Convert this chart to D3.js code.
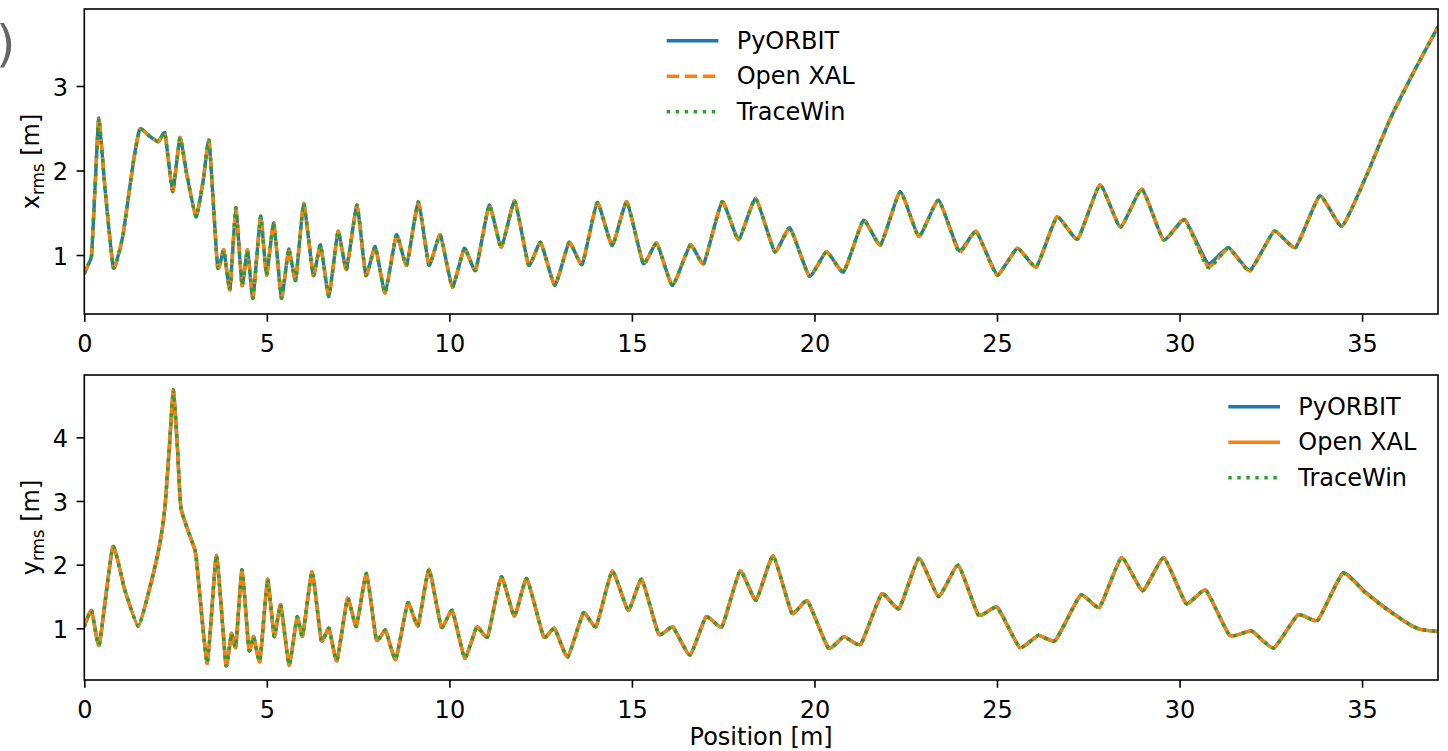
<!DOCTYPE html>
<html><head><meta charset="utf-8">
<script src="https://cdn.jsdelivr.net/npm/d3@7"></script>
<style>
body{margin:0;background:#fff}
svg{display:block}
text{font-family:"DejaVu Sans",sans-serif}
</style>
</head><body>
<svg id="chart" width="1448" height="751"></svg>
<script>
// ---------- data ----------
const topPositions = [0.00,0.10,0.20,0.30,0.40,0.57,0.79,0.92,1.07,1.34,1.52,1.75,2.03,2.21,2.42,2.62,2.80,3.06,3.26,3.42,3.65,3.82,3.99,4.15,4.32,4.47,4.62,4.83,4.99,5.19,5.40,5.60,5.79,6.01,6.27,6.47,6.70,6.95,7.18,7.47,7.71,7.97,8.24,8.55,8.83,9.15,9.44,9.75,10.08,10.41,10.72,11.09,11.42,11.79,12.17,12.50,12.89,13.28,13.64,14.05,14.46,14.86,15.31,15.68,16.11,16.60,16.97,17.47,17.92,18.39,18.91,19.33,19.86,20.33,20.80,21.34,21.81,22.35,22.86,23.40,23.96,24.43,25.00,25.56,26.08,26.64,27.21,27.82,28.38,28.97,29.56,30.14,30.78,31.34,31.93,32.59,33.18,33.84,34.45,35.11,35.76,36.42,37.08];
const xPyORBIT  = [0.78,0.88,1.00,1.85,2.62,1.77,0.86,0.98,1.26,2.09,2.49,2.42,2.34,2.44,1.75,2.39,1.97,1.45,1.89,2.35,0.86,1.06,0.59,1.56,0.64,1.06,0.49,1.46,0.76,1.38,0.49,1.07,0.70,1.61,0.76,1.12,0.51,1.28,0.83,1.59,0.76,1.10,0.55,1.24,0.88,1.63,0.88,1.24,0.62,1.08,0.82,1.59,1.09,1.64,0.88,1.15,0.64,1.15,0.89,1.62,1.11,1.63,0.90,1.14,0.64,1.12,0.90,1.63,1.18,1.67,1.04,1.32,0.75,1.04,0.80,1.41,1.12,1.75,1.22,1.65,1.05,1.28,0.77,1.08,0.86,1.45,1.19,1.83,1.33,1.78,1.18,1.42,0.90,1.09,0.82,1.28,1.09,1.70,1.34,1.93,2.60,3.17,3.70];
const xOpenXAL  = [0.78,0.88,1.00,1.86,2.63,1.78,0.86,0.98,1.26,2.09,2.49,2.42,2.34,2.44,1.75,2.39,1.97,1.45,1.89,2.35,0.86,1.06,0.59,1.56,0.64,1.06,0.49,1.46,0.76,1.38,0.49,1.07,0.70,1.61,0.76,1.12,0.51,1.28,0.83,1.59,0.76,1.10,0.55,1.24,0.88,1.63,0.88,1.24,0.62,1.08,0.82,1.59,1.09,1.64,0.88,1.15,0.64,1.15,0.89,1.62,1.11,1.63,0.90,1.14,0.64,1.12,0.90,1.63,1.18,1.67,1.04,1.32,0.75,1.04,0.80,1.41,1.12,1.75,1.22,1.65,1.03,1.28,0.76,1.08,0.86,1.45,1.19,1.83,1.33,1.78,1.18,1.42,0.86,1.08,0.81,1.28,1.09,1.70,1.34,1.93,2.60,3.17,3.70];
const xTraceWin = [0.78,0.88,1.00,1.85,2.62,1.77,0.86,0.98,1.26,2.09,2.49,2.42,2.34,2.44,1.75,2.39,1.97,1.45,1.89,2.35,0.86,1.06,0.59,1.56,0.64,1.06,0.49,1.46,0.76,1.38,0.49,1.07,0.70,1.61,0.76,1.12,0.51,1.28,0.83,1.59,0.76,1.10,0.55,1.24,0.88,1.63,0.88,1.24,0.62,1.08,0.82,1.59,1.09,1.64,0.88,1.15,0.64,1.15,0.89,1.62,1.11,1.63,0.90,1.14,0.64,1.12,0.90,1.63,1.18,1.67,1.04,1.32,0.75,1.04,0.80,1.41,1.12,1.75,1.22,1.65,1.04,1.28,0.76,1.08,0.86,1.45,1.19,1.83,1.33,1.78,1.18,1.41,0.85,1.08,0.81,1.28,1.09,1.70,1.34,1.93,2.60,3.17,3.70];

const bottomPositions = [0.00,0.20,0.41,0.78,1.11,1.48,1.80,2.07,2.21,2.33,2.44,2.55,2.65,3.03,3.09,3.37,3.62,3.88,4.03,4.15,4.32,4.51,4.64,4.81,5.02,5.20,5.38,5.61,5.83,5.98,6.24,6.49,6.70,6.92,7.21,7.45,7.73,8.00,8.25,8.53,8.86,9.14,9.44,9.78,10.08,10.42,10.75,11.05,11.42,11.78,12.12,12.58,12.88,13.24,13.67,14.02,14.46,14.90,15.27,15.73,16.12,16.59,17.03,17.47,17.96,18.40,18.87,19.38,19.81,20.38,20.81,21.27,21.84,22.32,22.86,23.40,23.94,24.49,25.01,25.62,26.13,26.60,27.29,27.81,28.41,28.99,29.57,30.18,30.72,31.37,31.97,32.58,33.24,33.79,34.47,35.09,35.72,36.36,36.63,37.08];
const yPyORBIT  = [1.03,1.28,0.74,2.28,1.60,1.03,1.65,2.33,2.91,3.85,4.75,3.85,2.88,2.23,1.97,0.45,2.15,0.42,0.92,0.71,1.92,0.66,0.87,0.48,1.77,0.87,1.37,0.42,1.18,0.88,1.89,0.81,1.00,0.49,1.47,1.03,1.86,0.82,0.97,0.51,1.40,1.04,1.93,1.02,1.28,0.53,1.02,0.87,1.81,1.19,1.78,0.87,1.00,0.55,1.24,1.03,1.90,1.28,1.77,0.91,1.02,0.58,1.18,1.03,1.90,1.44,2.14,1.24,1.43,0.69,0.87,0.75,1.54,1.31,2.10,1.50,1.99,1.21,1.33,0.70,0.89,0.81,1.52,1.33,2.11,1.59,2.11,1.39,1.60,0.89,0.96,0.69,1.21,1.13,1.87,1.57,1.29,1.04,0.98,0.95];
const yOpenXAL  = [1.03,1.28,0.74,2.28,1.60,1.03,1.65,2.33,2.91,3.85,4.75,3.85,2.88,2.23,1.97,0.45,2.15,0.42,0.92,0.71,1.92,0.66,0.87,0.48,1.77,0.87,1.37,0.42,1.18,0.88,1.89,0.81,1.00,0.49,1.47,1.03,1.86,0.82,0.97,0.51,1.40,1.04,1.93,1.02,1.28,0.53,1.02,0.87,1.81,1.19,1.78,0.87,1.00,0.55,1.24,1.03,1.90,1.28,1.77,0.91,1.02,0.58,1.18,1.03,1.90,1.44,2.14,1.24,1.43,0.69,0.87,0.75,1.54,1.31,2.10,1.50,1.99,1.21,1.33,0.70,0.89,0.81,1.52,1.33,2.11,1.59,2.11,1.39,1.60,0.89,0.96,0.69,1.21,1.13,1.86,1.56,1.28,1.04,0.98,0.95];
const yTraceWin = [1.03,1.28,0.74,2.28,1.60,1.03,1.65,2.33,2.91,3.85,4.75,3.85,2.88,2.23,1.97,0.45,2.15,0.42,0.92,0.71,1.92,0.66,0.87,0.48,1.77,0.87,1.37,0.42,1.18,0.88,1.89,0.81,1.00,0.49,1.47,1.03,1.86,0.82,0.97,0.51,1.40,1.04,1.93,1.02,1.28,0.53,1.02,0.87,1.81,1.19,1.78,0.87,1.00,0.55,1.24,1.03,1.90,1.28,1.77,0.91,1.02,0.58,1.18,1.03,1.90,1.44,2.14,1.24,1.43,0.69,0.87,0.75,1.54,1.31,2.10,1.50,1.99,1.21,1.33,0.70,0.89,0.81,1.52,1.33,2.11,1.59,2.11,1.39,1.60,0.89,0.96,0.69,1.21,1.13,1.86,1.56,1.28,1.04,0.98,0.95];

const seriesNames = ["PyORBIT","Open XAL","TraceWin"];
const xTickValues = [0,5,10,15,20,25,30,35];
const topYTicks = [1,2,3];
const bottomYTicks = [1,2,3,4];
const xDomain = [0, 37.08];

// ---------- drawing ----------
const colors = ["#1f77b4","#ff7f0e","#2ca02c"];
const LW = 3.4;
const FS = 24;
const svg = d3.select("#chart");
const left = 84.3, right = 1438;
const x = d3.scaleLinear().domain(xDomain).range([left, right]);

const panels = [
  {top:9, bottom:314, domain:[0.302,3.911], ticks:topYTicks, pos:topPositions,
   series:[xPyORBIT,xOpenXAL,xTraceWin], styles:["solid","dashed","dotted"],
   label:"x", legendX:666.7, legendY:40.7},
  {top:375, bottom:680, domain:[0.188,4.979], ticks:bottomYTicks, pos:bottomPositions,
   series:[yPyORBIT,yOpenXAL,yTraceWin], styles:["solid","solid","dotted"],
   label:"y", legendX:1228.3, legendY:406.7}
];

function dash(s){ return s==="dashed" ? (3.7*LW)+","+(1.6*LW) : s==="dotted" ? (1*LW)+","+(1.65*LW) : null; }

panels.forEach((p,pi)=>{
  const y = d3.scaleLinear().domain(p.domain).range([p.bottom, p.top]);
  const clipId = "clip"+pi;
  svg.append("clipPath").attr("id",clipId).append("rect")
    .attr("x",left).attr("y",p.top).attr("width",right-left).attr("height",p.bottom-p.top);

  const g = svg.append("g").attr("clip-path",`url(#${clipId})`);
  const line = d3.line().curve(d3.curveCardinal.tension(0.55))
    .x((d,i)=>x(p.pos[i])).y(d=>y(d));
  p.series.forEach((s,si)=>{
    g.append("path").attr("d",line(s)).attr("fill","none")
      .attr("stroke",colors[si]).attr("stroke-width",LW)
      .attr("stroke-dasharray",dash(p.styles[si]))
      .attr("stroke-linejoin","round")
      .attr("stroke-linecap",p.styles[si]==="solid"?"round":"butt");
  });

  // axes
  const xa = svg.append("g").attr("transform",`translate(0,${p.bottom})`)
    .call(d3.axisBottom(x).tickValues(xTickValues).tickSize(7.7).tickFormat(d3.format("d")));
  xa.select(".domain").remove();
  xa.selectAll("line").attr("stroke","#000").attr("stroke-width",1.6);
  xa.selectAll("text").attr("y",37.5).attr("dy",null).attr("font-size",FS)
    .attr("fill","#000").attr("font-family","DejaVu Sans");

  const ya = svg.append("g").attr("transform",`translate(${left},0)`)
    .call(d3.axisLeft(y).tickValues(p.ticks).tickSize(7.7).tickFormat(d3.format("d")));
  ya.select(".domain").remove();
  ya.selectAll("line").attr("stroke","#000").attr("stroke-width",1.6);
  ya.selectAll("text").attr("x",-16.3).attr("dy","0.38em").attr("font-size",FS)
    .attr("fill","#000").attr("font-family","DejaVu Sans");

  svg.append("rect").attr("x",left).attr("y",p.top).attr("width",right-left)
    .attr("height",p.bottom-p.top).attr("fill","none").attr("stroke","#000").attr("stroke-width",1.6);

  // y label
  const yl = svg.append("text")
    .attr("transform",`translate(39,${(p.top+p.bottom)/2}) rotate(-90)`)
    .attr("text-anchor","middle").attr("font-size",FS).attr("fill","#000");
  yl.append("tspan").text(p.label);
  yl.append("tspan").attr("font-size",FS*0.7).attr("dy",FS*0.22).text("rms");
  yl.append("tspan").attr("dy",-FS*0.22).text(" [m]");

  // legend
  seriesNames.forEach((n,si)=>{
    const ly = p.legendY + si*35.5;
    svg.append("line").attr("x1",p.legendX).attr("x2",p.legendX+51.7)
      .attr("y1",ly).attr("y2",ly).attr("stroke",colors[si]).attr("stroke-width",LW)
      .attr("stroke-dasharray",dash(p.styles[si]));
    svg.append("text").attr("x",p.legendX+70).attr("y",ly+8.2)
      .attr("font-size",FS).attr("fill","#000").text(n);
  });
});

svg.append("text").attr("x",(left+right)/2).attr("y",745).attr("text-anchor","middle")
  .attr("font-size",FS).attr("fill","#000").text("Position [m]");

// cut-off panel tag (the reference shows only the closing parenthesis at the left edge)
svg.append("text").attr("x",-4).attr("y",61).attr("font-size",50).attr("fill","#666").text(")");
</script>
</body></html>
